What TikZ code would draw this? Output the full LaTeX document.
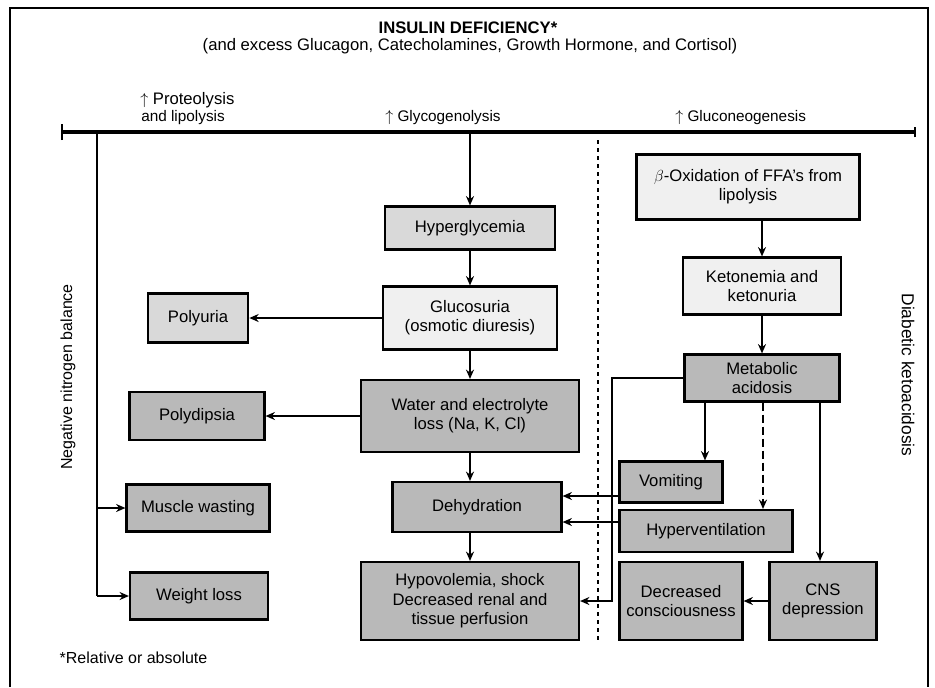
\documentclass[tikz,border=0pt]{standalone}
\usepackage{fontspec}
\setmainfont{Liberation Sans}
\usetikzlibrary{arrows.meta}
\begin{document}
\begin{tikzpicture}[x=0.75pt,y=-0.75pt,
  sz/.style 2 args={minimum width=#1*0.75pt, minimum height=#2*0.75pt},
  box/.style={draw=black, line width=1.6pt, align=center, inner sep=2pt,
    font=\fontsize{12.5}{14.5}\selectfont},
  litebox/.style={box, fill=gray!12},
  midbox/.style={box, fill=gray!30},
  darkbox/.style={box, fill=gray!55},
  lbl/.style={inner sep=0pt, font=\fontsize{11.5}{13}\selectfont},
  arr/.style={-{Stealth[length=7pt,width=6pt]}, line width=1.2pt},
  wire/.style={line width=1.2pt},
  hbar/.style={line width=2.6pt},
  divider/.style={line width=1.2pt, dash pattern=on 3pt off 3pt}
]
\useasboundingbox (0,0) rectangle (935,687);

% page frame
\draw[line width=0.8pt] (10,687) -- (10,8) -- (928,8) -- (928,687);

% heading
\node[font=\fontsize{12.5}{14}\selectfont\bfseries] (title) at (468,28) {INSULIN DEFICIENCY*};
\node[font=\fontsize{12.5}{14}\selectfont] (subtitle) at (470,46)
  {(and excess Glucagon, Catecholamines, Growth Hormone, and Cortisol)};

% the three metabolic pathways
\node[lbl, anchor=west, font=\fontsize{12.5}{14}\selectfont] (prot) at (140,100) {$\uparrow$ Proteolysis};
\node[lbl, anchor=west] (lipo) at (141,118) {and lipolysis};
\node[lbl, anchor=west] (glyco) at (385,118) {$\uparrow$ Glycogenolysis};
\node[lbl, anchor=west] (gneo) at (675,118) {$\uparrow$ Gluconeogenesis};

\coordinate (barL) at (62,132);
\coordinate (barR) at (915,132);
\draw[hbar] (barL) -- (barR);
\draw[line width=1pt] ([yshift=-6pt]barL) -- ([yshift=6pt]barL);
\draw[line width=1pt] ([yshift=-4pt]barR) -- ([yshift=4pt]barR);

% divider between glucose and ketone branches
\coordinate (divT) at (598,140);
\coordinate (divB) at (598,642);
\draw[divider] (divT) -- (divB);

% central column
\node[midbox, sz={170}{43}] (hyp) at (470,228) {Hyperglycemia};
\node[litebox, sz={174}{63}] (glu) at (470,318) {Glucosuria\\(osmotic diuresis)};
\node[midbox, sz={100}{49}, line width=2pt] (pol) at (198,318) {Polyuria};
\node[darkbox, sz={218}{72}] (wel) at (470,416) {Water and electrolyte\\loss (Na, K, Cl)};
\node[darkbox, sz={169}{50}] (deh) at (477,507) {Dehydration};
\node[darkbox, sz={218}{78}] (hypo) at (470,601) {Hypovolemia, shock\\Decreased renal and\\tissue perfusion};

% left column
\node[darkbox, sz={135}{48}] (dip) at (197,416) {Polydipsia};
\node[darkbox, sz={143}{47}] (mus) at (198,508) {Muscle wasting};
\node[darkbox, sz={138}{47}] (wt) at (199,596) {Weight loss};

% ketone branch
\node[litebox, sz={223}{65}] (box) at (748,187) {$\beta$-Oxidation of FFA's from\\lipolysis};
\node[litebox, sz={158}{57}] (ket) at (762,286) {Ketonemia and\\ketonuria};
\node[darkbox, sz={155}{47}] (ma) at (762,378) {Metabolic\\acidosis};
\node[darkbox, sz={103}{41}] (vom) at (671,482) {Vomiting};
\node[darkbox, sz={173}{42}] (hyv) at (706,531) {Hyperventilation};
\node[darkbox, sz={123}{78}] (coma) at (681,601) {Decreased\\consciousness};
\node[darkbox, sz={107}{78}] (cns) at (823,601) {CNS\\depression};

% side labels and footnote
\node[rotate=90, font=\fontsize{12}{14}\selectfont] (nnb) at (68,377) {Negative nitrogen balance};
\node[rotate=-90, font=\fontsize{13}{15}\selectfont] (dka) at (908,375) {Diabetic ketoacidosis};
\node[anchor=west, font=\fontsize{12}{14}\selectfont] (note) at (55,658) {*Relative or absolute};

% connectors: glucose branch
\coordinate (topC) at (470,132);
\draw[arr] (topC) -- (hyp.north);
\draw[arr] (hyp.south) -- (glu.north);
\draw[arr] (glu.west) -- (pol.east);
\draw[arr] (glu.south) -- (wel.north);
\draw[arr] (wel.west) -- (dip.east);
\draw[arr] (wel.south) -- (wel.south |- deh.north);
\draw[arr] (deh.south -| wel.south) -- (hypo.north);

% connectors: proteolysis / lipolysis
\coordinate (lt) at (97,132);
\coordinate (lb) at (97,596);
\draw[wire] (lt) -- (lb);
\draw[arr] (lt |- mus.west) -- (mus.west);
\draw[arr] (lb) -- (wt.west);

% connectors: ketone branch
\draw[arr] (ket.north |- box.south) -- (ket.north);
\draw[arr] (ket.south) -- (ma.north);
\draw[arr] (ma.south -| 705,0) -- (vom.north -| 705,0);
\draw[arr, dash pattern=on 6pt off 3pt] (ma.south -| 763,0) -- (hyv.north -| 763,0);
\draw[arr] (ma.south -| 820,0) -- (cns.north -| 820,0);
\draw[arr] (cns.west) -- (coma.east);
\draw[arr] (vom.west |- 0,496) -- (deh.east |- 0,496);
\draw[arr] (hyv.west |- 0,522) -- (deh.east |- 0,522);
\draw[arr] (ma.west) -- (ma.west -| 612,0) |- (hypo.east);
\end{tikzpicture}
\end{document}
